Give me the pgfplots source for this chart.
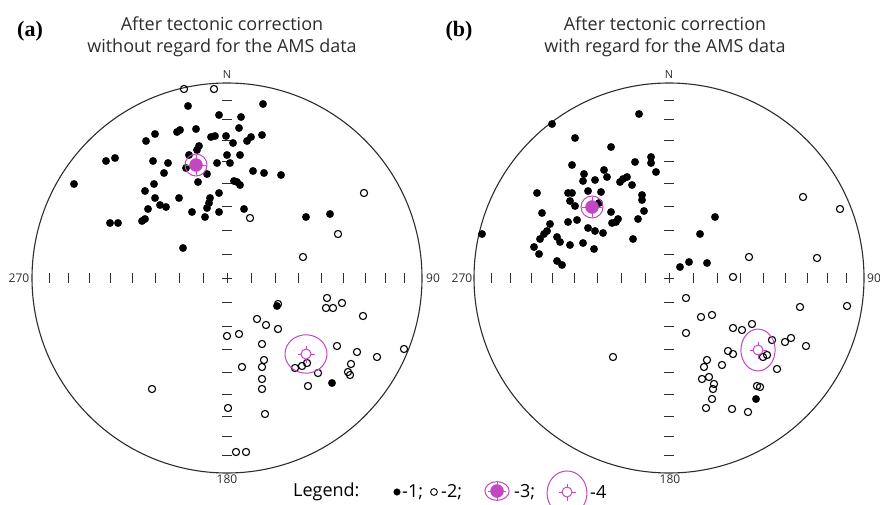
\documentclass[border=0pt]{standalone}
\usepackage{fontspec}
\setmainfont{Open Sans}
\newfontfamily\serifbold{Liberation Serif}
\usepackage{pgfplots}
\pgfplotsset{compat=1.18}
\definecolor{mag}{RGB}{195,70,195}
\definecolor{ink}{RGB}{45,45,45}
\begin{document}
\begin{tikzpicture}
\begin{axis}[
  scale only axis, width=880pt, height=505pt,
  xmin=0, xmax=880, ymin=0, ymax=505, y dir=reverse,
  hide axis, clip=false,
]
% ---- primitive circles (stereonet outlines)
\addplot[only marks, mark=o, mark size=195pt, mark options={draw=ink, line width=1.1pt}] coordinates {(227,278) (669,278)};
% ---- graticule ticks (equal-area spacing, 10 degree steps)
\addplot[only marks, mark=|, mark size=5pt, mark options={draw=ink, line width=0.8pt}] coordinates {
(203,278) (179.1,278) (155.6,278) (132.7,278) (110.4,278) (89.1,278) (68.8,278) (49.7,278)
(251,278) (274.9,278) (298.4,278) (321.3,278) (343.6,278) (364.9,278) (385.2,278) (404.3,278)
(645,278) (621.1,278) (597.6,278) (574.7,278) (552.4,278) (531.1,278) (510.8,278) (491.7,278)
(693,278) (716.9,278) (740.4,278) (763.3,278) (785.6,278) (806.9,278) (827.2,278) (846.3,278)};
\addplot[only marks, mark=-, mark size=5pt, mark options={draw=ink, line width=0.8pt}] coordinates {
(227,254) (227,230.1) (227,206.6) (227,183.7) (227,161.4) (227,140.1) (227,119.8) (227,100.7)
(227,302) (227,325.9) (227,349.4) (227,372.3) (227,394.6) (227,415.9) (227,436.2) (227,455.3)
(669,254) (669,230.1) (669,206.6) (669,183.7) (669,161.4) (669,140.1) (669,119.8) (669,100.7)
(669,302) (669,325.9) (669,349.4) (669,372.3) (669,394.6) (669,415.9) (669,436.2) (669,455.3)};
\addplot[only marks, mark=+, mark size=5pt, mark options={draw=ink, line width=0.8pt}] coordinates {(227,278) (669,278)};
% ---- (a) filled: lower hemisphere
\addplot[only marks, mark=*, mark size=3.7pt, mark options={fill=black, draw=black}] coordinates {
(188,106) (263,104) (219,115) (241,117) (239,128) (155,134) (146,141) (177,132) (180,130) (196,129)
(211,137) (215,136) (226,136) (233,143) (247,141) (251,137) (262,135) (199,146) (197,150) (106,161)
(115,158) (153,161) (168,163) (227,155) (240,155) (217,163) (230,163) (164,173) (207,174) (198,182)
(189,155) (186,168) (253,171) (264,173) (281,175) (234,181) (237,182) (240,185) (74,184) (154,184)
(145,191) (219,193) (210,198) (209,203) (207,208) (155,198) (160,205) (166,207) (148,209) (179,198)
(192,212) (205,217) (219,212) (244,209) (110,223) (118,223) (142,221) (145,219) (306,217) (330,214)
(183,248) (277,306) (332,383)};
% ---- (a) open: upper hemisphere
\addplot[only marks, mark=o, mark size=3.6pt, mark options={draw=black, fill=white, line width=1.1pt}] coordinates {
(184,89) (214,89) (250,218) (364,193) (338,234) (303,257) (278,304) (327,298) (326,308) (333,308)
(342,303) (363,316) (257,319) (266,325) (278,329) (227,336) (239,334) (262,344) (337,346) (357,352)
(377,357) (404,349) (264,360) (262,367) (242,367) (295,368) (302,366) (307,363) (318,373) (351,364)
(348,372) (350,375) (308,386) (262,379) (262,389) (152,389) (228,408) (265,414) (236,452) (246,452)};
% ---- (b) filled
\addplot[only marks, mark=*, mark size=3.7pt, mark options={fill=black, draw=black}] coordinates {
(639,114) (552,124) (575,138) (611,147) (651,157) (651,163) (656,172) (635,162) (572,165) (584,174)
(583,181) (595,180) (604,170) (607,177) (620,182) (623,179) (627,177) (632,185) (537,193) (568,193)
(572,193) (570,201) (575,206) (588,191) (601,192) (642,195) (642,200) (644,211) (599,203) (611,212)
(618,219) (612,223) (616,222) (638,219) (542,213) (568,222) (577,220) (550,224) (588,228) (595,231)
(603,233) (547,231) (544,234) (540,239) (557,237) (560,242) (570,245) (583,243) (633,239) (482,234)
(534,247) (594,249) (539,254) (557,261) (562,265) (715,217) (700,234) (680,267) (689,262) (707,263)
(756,399)};
% ---- (b) open
\addplot[only marks, mark=o, mark size=3.6pt, mark options={draw=black, fill=white, line width=1.1pt}] coordinates {
(803,197) (840,209) (749,257) (817,258) (733,277) (686,298) (800,307) (847,306) (701,317) (712,315)
(686,333) (733,328) (742,330) (752,324) (772,340) (785,342) (791,338) (806,346) (728,351) (733,354)
(767,355) (763,357) (707,360) (704,367) (722,365) (777,369) (702,379) (709,377) (714,384) (713,389)
(757,386) (760,387) (712,399) (706,408) (732,409) (748,412) (613,357)};
% ---- mean directions, lower hemisphere (-3)
\addplot[only marks, mark=o, mark size=11pt, mark options={draw=mag, line width=1pt}] coordinates {(196,165) (592,207)};
\addplot[only marks, mark=+, mark size=10pt, mark options={draw=mag, line width=0.9pt}] coordinates {(196,165) (592,207)};
\addplot[only marks, mark=*, mark size=6.5pt, mark options={fill=mag, draw=mag}] coordinates {(196,165) (592,207)};
% ---- mean directions, upper hemisphere (-4) with confidence ellipses
\addplot[only marks, mark=o, mark size=20pt, mark options={draw=mag, line width=1pt, xscale=1.05, yscale=0.96, rotate=20}] coordinates {(306,354)};
\addplot[only marks, mark=o, mark size=19pt, mark options={draw=mag, line width=1pt, xscale=0.9, yscale=1.1, rotate=-20}] coordinates {(758,350)};
\addplot[only marks, mark=+, mark size=8.5pt, mark options={draw=mag, line width=0.9pt}] coordinates {(306,354) (758,350)};
\addplot[only marks, mark=*, mark size=5pt, mark options={fill=white, draw=mag, line width=1pt}] coordinates {(306,354) (758,350)};
% ---- legend symbols
\addplot[only marks, mark=*, mark size=3.3pt, mark options={fill=black, draw=black}] coordinates {(397,492)};
\addplot[only marks, mark=o, mark size=3.4pt, mark options={draw=black, line width=0.9pt}] coordinates {(434,492)};
\addplot[only marks, mark=o, mark size=11pt, mark options={draw=mag, line width=1pt, xscale=1.1, yscale=0.85}] coordinates {(497,491)};
\addplot[only marks, mark=+, mark size=9pt, mark options={draw=mag, line width=0.9pt}] coordinates {(497,491)};
\addplot[only marks, mark=*, mark size=6.5pt, mark options={fill=mag, draw=mag}] coordinates {(497,491)};
\addplot[only marks, mark=o, mark size=21pt, mark options={draw=mag, line width=1pt, xscale=0.95, yscale=1.05}] coordinates {(567,493)};
\addplot[only marks, mark=+, mark size=8.5pt, mark options={draw=mag, line width=0.9pt}] coordinates {(567,492)};
\addplot[only marks, mark=*, mark size=5pt, mark options={fill=white, draw=mag, line width=1pt}] coordinates {(567,492)};
% ---- texts
\node[font=\fontsize{18}{20}\selectfont, text=ink] at (axis cs:222,24) {After tectonic correction};
\node[font=\fontsize{18}{20}\selectfont, text=ink] at (axis cs:222,48) {without regard for the AMS data};
\node[font=\fontsize{18}{20}\selectfont, text=ink] at (axis cs:665,24) {After tectonic correction};
\node[font=\fontsize{18}{20}\selectfont, text=ink] at (axis cs:665,48) {with regard for the AMS data};
\node[font=\serifbold\bfseries\fontsize{22}{24}\selectfont] at (axis cs:30,31) {(a)};
\node[font=\serifbold\bfseries\fontsize{22}{24}\selectfont] at (axis cs:459,31) {(b)};
\node[font=\fontsize{11}{12}\selectfont, text=ink] at (axis cs:227,75) {N};
\node[font=\fontsize{11}{12}\selectfont, text=ink] at (axis cs:669,75) {N};
\node[font=\fontsize{12}{13}\selectfont, text=ink] at (axis cs:19,278) {270};
\node[font=\fontsize{12}{13}\selectfont, text=ink] at (axis cs:433,278) {90};
\node[font=\fontsize{12}{13}\selectfont, text=ink] at (axis cs:462,278) {270};
\node[font=\fontsize{12}{13}\selectfont, text=ink, anchor=west, inner xsep=0pt] at (axis cs:867,278) {90};
\node[font=\fontsize{12}{13}\selectfont, text=ink] at (axis cs:227,479) {180};
\node[font=\fontsize{12}{13}\selectfont, text=ink] at (axis cs:670,479) {180};
\node[font=\fontsize{18}{20}\selectfont, anchor=west, inner xsep=0pt] at (axis cs:293,492) {Legend:};
\node[font=\fontsize{18}{20}\selectfont, anchor=west, inner xsep=0pt] at (axis cs:402,492) {-1;};
\node[font=\fontsize{18}{20}\selectfont, anchor=west, inner xsep=0pt] at (axis cs:441,492) {-2;};
\node[font=\fontsize{18}{20}\selectfont, anchor=west, inner xsep=0pt] at (axis cs:514,492) {-3;};
\node[font=\fontsize{18}{20}\selectfont, anchor=west, inner xsep=0pt] at (axis cs:590,492) {-4};
\end{axis}
\pgfresetboundingbox
\useasboundingbox (current axis.south west) rectangle (current axis.north east);
\end{tikzpicture}
\end{document}
